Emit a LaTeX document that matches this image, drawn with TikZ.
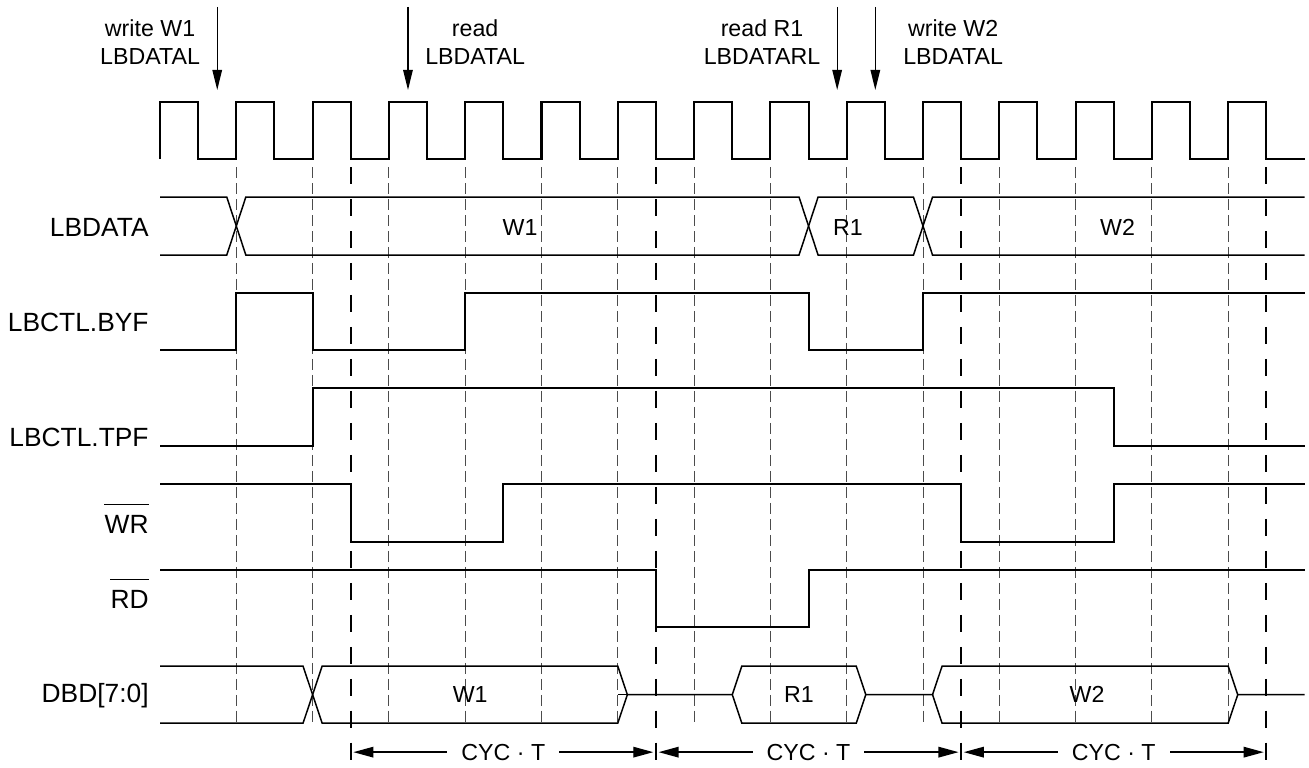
\documentclass[tikz,border=0pt]{standalone}
\usepackage{fontspec}
\setmainfont{Liberation Sans}
\usetikzlibrary{arrows.meta}

\begin{document}
\begin{tikzpicture}[x=0.763cm, y=-0.02cm]
	\tikzset{
		sig/.style={line width=1.15pt},
		bus/.style={line width=0.85pt},
		thin tick/.style={line width=0.55pt, black!70, dash pattern=on 6.3pt off 2.8pt},
		cyc tick/.style={line width=1.15pt, dash pattern=on 9.7pt off 8.5pt},
		siglabel/.style={anchor=base east, inner sep=0pt, font=\fontsize{15}{18}\selectfont},
		val/.style={inner sep=0pt, font=\fontsize{13.2}{16}\selectfont},
		note/.style={align=center, inner sep=0pt, font=\fontsize{13.2}{16}\selectfont},
		event/.style={line width=0.75pt, -{Triangle[length=11.4pt, width=5.4pt]}},
		cycspan/.style={line width=0.8pt, {Triangle[length=11.4pt, width=6pt]}-{Triangle[length=11.4pt, width=6pt]}, shorten <=1.5pt, shorten >=1.5pt}
	}
	\useasboundingbox (-4.194,0) rectangle (30.118,767);
	% grid of clock edges
	\foreach \k in {1,...,14}
		\draw[thin tick] (2*\k,167) -- (2*\k,725);
	\foreach \k in {5,13,21,29}
		\draw[cyc tick] (\k,167) -- (\k,767);
	% clock
	\draw[sig] (0,159) \foreach \k in {0,...,14} { -- (2*\k,102) -- (2*\k+1,102) -- (2*\k+1,159) -- (2*\k+2,159) };
	% LBDATA
	\draw[bus] (0,197) -- (1.75,197) -- (2.25,255) -- (16.75,255) -- (17.25,197) -- (19.75,197) -- (20.25,255) -- (30,255);
	\draw[bus] (0,255) -- (1.75,255) -- (2.25,197) -- (16.75,197) -- (17.25,255) -- (19.75,255) -- (20.25,197) -- (30,197);
	\node[val] (lbw1) at (9.44,227) {W1};
	\node[val] (lbr1) at (18.03,227) {R1};
	\node[val] (lbw2) at (25.1,227) {W2};
	% control lines
	\draw[sig] (0,350) -| (2,293) -| (4,350) -| (8,293) -| (17,350) -| (20,293) -- (30,293);
	\draw[sig] (0,446) -| (4,388) -| (25,446) -- (30,446);
	\draw[sig] (0,484) -| (5,542) -| (9,484) -| (21,542) -| (25,484) -- (30,484);
	\draw[sig] (0,570) -| (13,627) -| (17,570) -- (30,570);
	% DBD[7:0]
	\draw[bus] (0,666) -- (3.75,666) -- (4.25,723) -- (12,723) -- (12.25,694.5) -- (15,694.5) -- (15.25,723) -- (18.25,723) -- (18.5,694.5) -- (20.25,694.5) -- (20.5,723) -- (28,723) -- (28.25,694.5) -- (30,694.5);
	\draw[bus] (0,723) -- (3.75,723) -- (4.25,666) -- (12,666) -- (12.25,694.5);
	\draw[bus] (12,694.5) -- (12.25,694.5);
	\draw[bus] (15,694.5) -- (15.25,666) -- (18.25,666) -- (18.5,694.5);
	\draw[bus] (20.25,694.5) -- (20.5,666) -- (28,666) -- (28.25,694.5);
	\node[val] (dbw1) at (8.13,694.5) {W1};
	\node[val] (dbr1) at (16.75,694.5) {R1};
	\node[val] (dbw2) at (24.3,694.5) {W2};
	% signal names
	\node[siglabel] (lbdata) at (-0.29,236.7) {LBDATA};
	\node[siglabel] (byf) at (-0.29,331.7) {LBCTL.BYF};
	\node[siglabel] (tpf) at (-0.29,446.7) {LBCTL.TPF};
	\node[siglabel] (wr) at (-0.29,533) {WR};
	\node[siglabel] (rd) at (-0.29,608) {RD};
	\node[siglabel] (dbd) at (-0.29,702.7) {DBD[7:0]};
	\draw[line width=0.85pt] ([yshift=5.7pt]wr.north west) -- ([yshift=5.7pt]wr.north east);
	\draw[line width=0.85pt] ([yshift=5.7pt]rd.north west) -- ([yshift=5.7pt]rd.north east);
	% accesses
	\node[note] (n1) at (-0.26,42) {write W1\\LBDATAL};
	\node[note] (n2) at (8.26,42) {read\\LBDATAL};
	\node[note] (n3) at (15.78,42) {read R1\\LBDATARL};
	\node[note] (n4) at (20.79,42) {write W2\\LBDATAL};
	\foreach \x [count=\i] in {1.5,6.5,17.75,18.75} {
		\coordinate (ev\i top) at (\x,7);
		\coordinate (ev\i tip) at (\x,90);
		\draw[event] (ev\i top) -- (ev\i tip);
	}
	% cycle time
	\foreach \a/\b [count=\i] in {5/13,13/21,21/29} {
		\coordinate (cs\i) at (\a,752);
		\coordinate (ce\i) at (\b,752);
		\draw[cycspan] (cs\i) -- node[val, fill=white, inner xsep=8pt, inner ysep=2pt] (cyc\i) {CYC · T} (ce\i);
	}
\end{tikzpicture}
\end{document}
